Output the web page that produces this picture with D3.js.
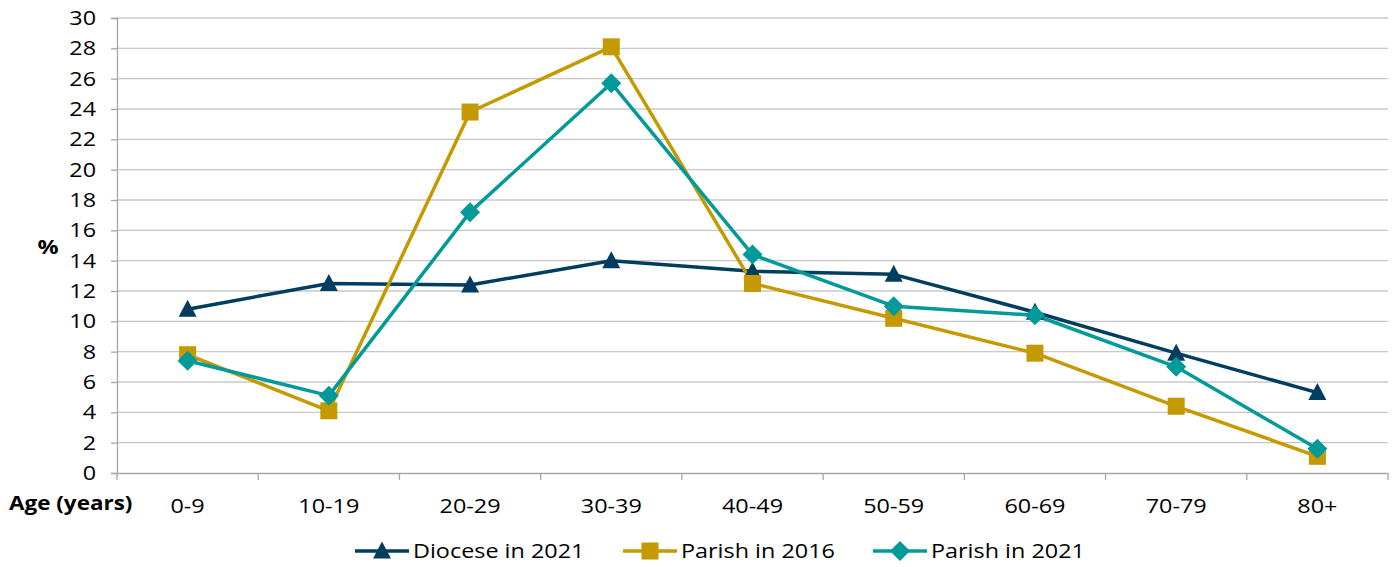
<!DOCTYPE html>
<html>
<head>
<meta charset="utf-8">
<script src="https://cdn.jsdelivr.net/npm/d3@7"></script>
<style>
  body { margin: 0; background: #fff; }
  text { font-family: "Open Sans", Lato, sans-serif; fill: #000; }
</style>
</head>
<body>
<div id="chart"></div>
<script>
const ageGroups = ["0-9", "10-19", "20-29", "30-39", "40-49", "50-59", "60-69", "70-79", "80+"];
const diocese2021 = [10.8, 12.5, 12.4, 14.0, 13.3, 13.1, 10.6, 7.9, 5.3];
const parish2016 = [7.8, 4.1, 23.8, 28.1, 12.5, 10.2, 7.9, 4.4, 1.1];
const parish2021 = [7.4, 5.1, 17.2, 25.7, 14.4, 11.0, 10.4, 7.0, 1.6];
const yTicks = d3.range(0, 31, 2);

const series = [
  { name: "Diocese in 2021", values: diocese2021, color: "#003d5e", marker: "triangle" },
  { name: "Parish in 2016", values: parish2016, color: "#c49a00", marker: "square" },
  { name: "Parish in 2021", values: parish2021, color: "#009a9a", marker: "diamond" }
];

const width = 1395, height = 567;
const margin = { top: 18, right: 7, bottom: 94, left: 117 };
const fontSize = "20px";
const stretch = 1.17; // text in the reference is wider than it is tall

const svg = d3.select("#chart").append("svg")
  .attr("width", width)
  .attr("height", height);

const x = d3.scaleBand()
  .domain(ageGroups)
  .range([margin.left, width - margin.right]);

const y = d3.scaleLinear()
  .domain([0, 30])
  .range([height - margin.bottom, margin.top]);

// gridlines
svg.append("g")
  .selectAll("line")
  .data(yTicks.filter(d => d > 0))
  .join("line")
  .attr("x1", margin.left)
  .attr("x2", width - margin.right)
  .attr("y1", d => y(d))
  .attr("y2", d => y(d))
  .attr("stroke", "#c8c8c8")
  .attr("stroke-width", 1.3);

// y axis
const yAxis = svg.append("g")
  .attr("transform", `translate(${margin.left},0)`)
  .call(d3.axisLeft(y).tickValues(yTicks).tickSize(6).tickPadding(7));
yAxis.select(".domain").attr("stroke", "#a6a6a6").attr("stroke-width", 1.3);
yAxis.selectAll(".tick line").attr("stroke", "#a6a6a6").attr("stroke-width", 1.3);
yAxis.selectAll("text")
  .style("font-size", fontSize)
  .attr("fill", "#000")
  .attr("x", -21 / stretch)
  .attr("transform", `scale(${stretch},1)`);

// x axis
const xAxis = svg.append("g")
  .attr("transform", `translate(0,${y(0)})`)
  .call(d3.axisBottom(x).tickSize(0).tickPadding(26));
xAxis.select(".domain").attr("stroke", "#a6a6a6").attr("stroke-width", 1.3);
xAxis.selectAll("text")
  .style("font-size", fontSize)
  .attr("fill", "#000")
  .attr("transform", `scale(${stretch},1)`);

// category boundary ticks
const bounds = ageGroups.map(d => x(d)).concat([x.range()[1]]);
svg.append("g")
  .selectAll("line")
  .data(bounds)
  .join("line")
  .attr("x1", d => d)
  .attr("x2", d => d)
  .attr("y1", y(0))
  .attr("y2", y(0) + 7)
  .attr("stroke", "#a6a6a6")
  .attr("stroke-width", 1.3);

// axis titles
svg.append("text")
  .attr("transform", `translate(48,254) scale(${stretch},1)`)
  .attr("text-anchor", "middle")
  .style("font-size", fontSize)
  .style("font-weight", "bold")
  .text("%");

svg.append("text")
  .attr("transform", `translate(9,510) scale(${stretch * 0.96},1)`)
  .style("font-size", fontSize)
  .style("font-weight", "bold")
  .text("Age (years)");

const cx = d => x(d) + x.bandwidth() / 2;

function drawMarker(g, type, color) {
  if (type === "triangle") {
    g.append("path").attr("d", "M0,-9.5L9,7.5L-9,7.5Z").attr("fill", color);
  } else if (type === "square") {
    g.append("rect").attr("x", -8.5).attr("y", -8.5).attr("width", 17).attr("height", 17).attr("fill", color);
  } else {
    g.append("path").attr("d", "M0,-10L10,0L0,10L-10,0Z").attr("fill", color);
  }
}

const line = d3.line()
  .x((d, i) => cx(ageGroups[i]))
  .y(d => y(d));

series.forEach(s => {
  svg.append("path")
    .datum(s.values)
    .attr("fill", "none")
    .attr("stroke", s.color)
    .attr("stroke-width", 3.5)
    .attr("stroke-linejoin", "round")
    .attr("d", line);
});

series.forEach(s => {
  s.values.forEach((v, i) => {
    const g = svg.append("g")
      .attr("transform", `translate(${cx(ageGroups[i])},${y(v)})`);
    drawMarker(g, s.marker, s.color);
  });
});

// legend
const legendX = [355, 623, 873];
series.forEach((s, i) => {
  const g = svg.append("g").attr("transform", `translate(${legendX[i]},551)`);
  g.append("line")
    .attr("x1", 0).attr("x2", 54)
    .attr("stroke", s.color)
    .attr("stroke-width", 3.5);
  const m = g.append("g").attr("transform", "translate(27,0)");
  drawMarker(m, s.marker, s.color);
  g.append("text")
    .attr("transform", `translate(58,7) scale(${stretch},1)`)
    .style("font-size", fontSize)
    .text(s.name);
});
</script>
</body>
</html>
